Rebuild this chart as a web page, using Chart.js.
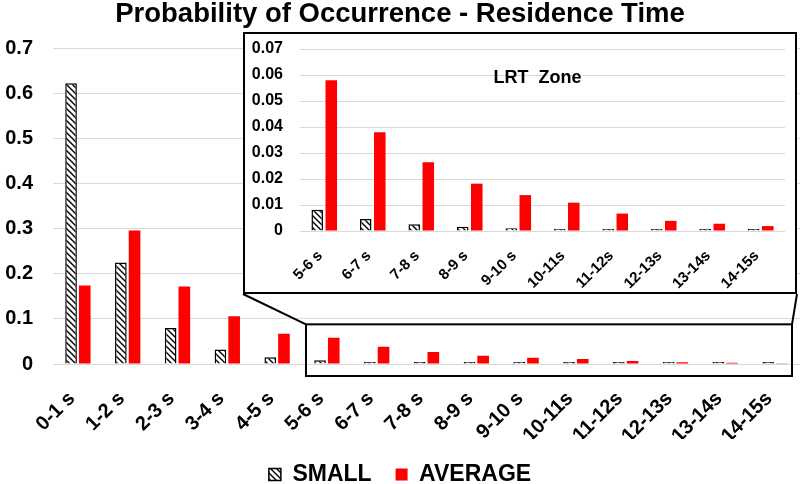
<!DOCTYPE html>
<html>
<head>
<meta charset="utf-8">
<script src="https://cdn.jsdelivr.net/npm/chart.js@4.4.1/dist/chart.umd.min.js"></script>
<style>
  body { margin: 0; background: #fff; }
  .wrap { position: relative; width: 800px; height: 484px; }
  .inset {
    position: absolute; left: 243px; top: 32px; width: 554px; height: 262px;
    box-sizing: border-box; border: 2px solid #000; background: #fff;
  }
</style>
</head>
<body>
<div class="wrap">
  <canvas id="mainChart" width="800" height="484"></canvas>
  <div class="inset"><canvas id="lrtChart" width="550" height="258"></canvas></div>
</div>
<script>
const categories = ['0-1 s', '1-2 s', '2-3 s', '3-4 s', '4-5 s', '5-6 s', '6-7 s', '7-8 s', '8-9 s', '9-10 s', '10-11s', '11-12s', '12-13s', '13-14s', '14-15s']
const smallValues = [0.623, 0.225, 0.080, 0.032, 0.015, 0.0082, 0.0046, 0.0026, 0.0016, 0.0011, 0.0007, 0.0005, 0.0003, 0.0003, 0.0003]
const averageValues = [0.174, 0.296, 0.172, 0.106, 0.067, 0.058, 0.038, 0.0264, 0.0182, 0.0138, 0.0109, 0.0067, 0.0039, 0.0028, 0.0019]
const mainTicks = ['0', '0.1', '0.2', '0.3', '0.4', '0.5', '0.6', '0.7']
const lrtTicks = ['0', '0.01', '0.02', '0.03', '0.04', '0.05', '0.06', '0.07']
const lrtStart = 5 // inset shows 5-6 s onwards

const FONT = '"Liberation Sans", Arial, sans-serif'
Chart.defaults.font.family = FONT
Chart.defaults.color = '#000'

// black diagonal hatch on white
function hatch() {
  let c = document.createElement('canvas')
  c.width = 6; c.height = 6
  let g = c.getContext('2d')
  g.fillStyle = '#fff'
  g.fillRect(0, 0, 6, 6)
  g.strokeStyle = '#000'
  g.lineWidth = 1.4
  g.beginPath()
  g.moveTo(-1, -1); g.lineTo(7, 7)
  g.moveTo(-1, 5); g.lineTo(1, 7)
  g.moveTo(5, -1); g.lineTo(7, 1)
  g.stroke()
  return g.createPattern(c, 'repeat')
}
const hatchFill = hatch()

// zoom box round 5-15 s plus the lines up to the inset
const insetEdge = { left: 243, right: 797, bottom: 294 }
const zoomBox = {
  id: 'zoomBox',
  afterDraw(chart) {
    const { ctx, scales: { x, y } } = chart
    const cat = x.getPixelForValue(1) - x.getPixelForValue(0)
    const left = x.getPixelForValue(lrtStart) - cat * 0.42
    const right = chart.chartArea.right - 8
    const top = y.getPixelForValue(0.088)
    const bottom = y.getPixelForValue(0) + 12
    ctx.save()
    ctx.strokeStyle = '#000'
    ctx.lineWidth = 2
    ctx.strokeRect(left, top, right - left, bottom - top)
    ctx.beginPath()
    ctx.moveTo(insetEdge.left, insetEdge.bottom); ctx.lineTo(left, top)
    ctx.moveTo(insetEdge.right, insetEdge.bottom); ctx.lineTo(right, top)
    ctx.stroke()
    ctx.restore()
  }
}

const zoneLabel = {
  id: 'zoneLabel',
  afterDraw(chart) {
    const { ctx, chartArea, scales: { y } } = chart
    ctx.save()
    ctx.font = 'bold 18px ' + FONT
    ctx.fillStyle = '#000'
    ctx.textAlign = 'center'
    ctx.textBaseline = 'middle'
    ctx.fillText('LRT  Zone', (chartArea.left + chartArea.right) / 2 - 5, y.getPixelForValue(0.059))
    ctx.restore()
  }
}

const gridColor = '#d9d9d9'

new Chart(document.getElementById('mainChart'), {
  type: 'bar',
  data: {
    labels: categories,
    datasets: [
      { label: 'SMALL', data: smallValues, backgroundColor: hatchFill, borderColor: '#000', borderWidth: 1.5, minBarLength: 2 },
      { label: 'AVERAGE', data: averageValues, backgroundColor: '#ff0000', borderWidth: 0 }
    ]
  },
  options: {
    responsive: false,
    animation: false,
    categoryPercentage: 0.55,
    barPercentage: 0.85,
    layout: { padding: { top: 1, left: 0, right: 0, bottom: -12 } },
    plugins: {
      title: {
        display: true,
        text: 'Probability of Occurrence - Residence Time',
        font: { size: 27.5, weight: 'bold', lineHeight: 1 },
        padding: { top: 0, bottom: 20 },
        color: '#000'
      },
      legend: {
        position: 'bottom',
        labels: { font: { size: 23, weight: 'bold' }, boxWidth: 12, boxHeight: 12, padding: 24, color: '#000' }
      },
      tooltip: { enabled: false }
    },
    scales: {
      x: {
        grid: { display: false },
        border: { display: false },
        ticks: { font: { size: 20, weight: 'bold' }, minRotation: 45, maxRotation: 45, autoSkip: false, padding: 15, labelOffset: -6 },
        afterFit: s => { s.height = 75; s.paddingLeft = 0; s.paddingRight = 0 }
      },
      y: {
        min: 0, max: 0.7,
        grid: { color: gridColor, lineWidth: 1, drawTicks: false },
        border: { display: false },
        ticks: { stepSize: 0.1, font: { size: 20, weight: 'bold' }, padding: 20, callback: (v, i) => mainTicks[i] },
        afterFit: s => { s.width = 53 }
      }
    }
  },
  plugins: [zoomBox]
})

new Chart(document.getElementById('lrtChart'), {
  type: 'bar',
  data: {
    labels: categories.slice(lrtStart),
    datasets: [
      { label: 'SMALL', data: smallValues.slice(lrtStart), backgroundColor: hatchFill, borderColor: '#000', borderWidth: 1.5, minBarLength: 2 },
      { label: 'AVERAGE', data: averageValues.slice(lrtStart), backgroundColor: '#ff0000', borderWidth: 0 }
    ]
  },
  options: {
    responsive: false,
    animation: false,
    categoryPercentage: 0.58,
    barPercentage: 0.82,
    layout: { padding: { top: 15, left: 0, right: 10, bottom: 0 } },
    plugins: { legend: { display: false }, tooltip: { enabled: false } },
    scales: {
      x: {
        grid: { display: false },
        border: { display: false },
        ticks: { font: { size: 15, weight: 'bold' }, minRotation: 45, maxRotation: 45, autoSkip: false, padding: 8, labelOffset: -4 },
        afterFit: s => { s.height = 61; s.paddingLeft = 0; s.paddingRight = 0 }
      },
      y: {
        min: 0, max: 0.07,
        grid: { color: gridColor, lineWidth: 1, drawTicks: false },
        border: { display: false },
        ticks: { stepSize: 0.01, font: { size: 16, weight: 'bold' }, padding: 17, callback: (v, i) => lrtTicks[i] },
        afterFit: s => { s.width = 55; s.paddingTop = 0; s.paddingBottom = 0 }
      }
    }
  },
  plugins: [zoneLabel]
})
</script>
</body>
</html>
